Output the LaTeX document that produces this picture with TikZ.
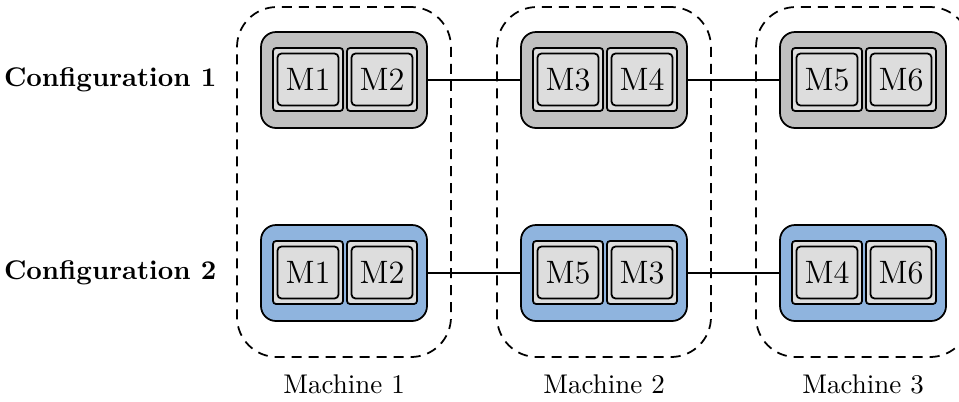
\documentclass[tikz,border=0pt]{standalone}
\usepackage{tikz}
\def\pxu{0.3704pt}
\definecolor{cfggray}{RGB}{192,192,192}
\definecolor{cfgblue}{RGB}{143,180,222}
\definecolor{modgray}{RGB}{221,221,221}
\tikzset{
  machinebox/.style={draw, dash pattern=on 3.7pt off 2.6pt, line width=0.65pt, rounded corners=40*\pxu, minimum width=214*\pxu, minimum height=350*\pxu, inner sep=0pt},
  cfgbox/.style={draw, line width=0.65pt, rounded corners=15*\pxu, minimum width=166*\pxu, minimum height=96*\pxu, inner sep=0pt},
  modouter/.style={draw, fill=modgray, line width=0.65pt, rounded corners=3*\pxu, minimum width=70*\pxu, minimum height=63*\pxu, inner sep=0pt},
  modinner/.style={draw, line width=0.65pt, rounded corners=4*\pxu, minimum width=61*\pxu, minimum height=52*\pxu, inner sep=0pt, font=\large},
  link/.style={line width=0.65pt},
  cfglabel/.style={font=\bfseries, anchor=east, inner sep=0pt},
  mlabel/.style={}
}
\begin{document}
\begin{tikzpicture}[x=0.3704pt,y=-0.3704pt]
\useasboundingbox (0,0) rectangle (959,401);
\clip (0,0) rectangle (959,401);
% machine boxes
\node[machinebox] (mb1) at (344,182) {};
\node[machinebox] (mb2) at (604,182) {};
\node[machinebox] (mb3) at (863,182) {};
\node[mlabel] (ml1) at (344,384) {Machine 1};
\node[mlabel] (ml2) at (604,384) {Machine 2};
\node[mlabel] (ml3) at (863,384) {Machine 3};
% configuration labels
\node[cfglabel] (cl1) at (217,80) {Configuration 1};
\node[cfglabel] (cl2) at (217,273) {Configuration 2};
% configuration 1
\node[cfgbox, fill=cfggray] (a1) at (344,80) {};
\node[cfgbox, fill=cfggray] (a2) at (604,80) {};
\node[cfgbox, fill=cfggray] (a3) at (863,80) {};
% configuration 2
\node[cfgbox, fill=cfgblue] (b1) at (344,273) {};
\node[cfgbox, fill=cfgblue] (b2) at (604,273) {};
\node[cfgbox, fill=cfgblue] (b3) at (863,273) {};
% modules row 1
\node[modouter] (a1l) at (308,79.5) {};
\node[modinner] (a1li) at (308,79.5) {M1};
\node[modouter] (a1r) at (382,79.5) {};
\node[modinner] (a1ri) at (382,79.5) {M2};
\node[modouter] (a2l) at (568,79.5) {};
\node[modinner] (a2li) at (568,79.5) {M3};
\node[modouter] (a2r) at (642,79.5) {};
\node[modinner] (a2ri) at (642,79.5) {M4};
\node[modouter] (a3l) at (827,79.5) {};
\node[modinner] (a3li) at (827,79.5) {M5};
\node[modouter] (a3r) at (901,79.5) {};
\node[modinner] (a3ri) at (901,79.5) {M6};
% modules row 2
\node[modouter] (b1l) at (308,272.5) {};
\node[modinner] (b1li) at (308,272.5) {M1};
\node[modouter] (b1r) at (382,272.5) {};
\node[modinner] (b1ri) at (382,272.5) {M2};
\node[modouter] (b2l) at (568,272.5) {};
\node[modinner] (b2li) at (568,272.5) {M5};
\node[modouter] (b2r) at (642,272.5) {};
\node[modinner] (b2ri) at (642,272.5) {M3};
\node[modouter] (b3l) at (827,272.5) {};
\node[modinner] (b3li) at (827,272.5) {M4};
\node[modouter] (b3r) at (901,272.5) {};
\node[modinner] (b3ri) at (901,272.5) {M6};
% links
\draw[link] (a1.east) -- (a2.west);
\draw[link] (a2.east) -- (a3.west);
\draw[link] (b1.east) -- (b2.west);
\draw[link] (b2.east) -- (b3.west);
\end{tikzpicture}
\end{document}
